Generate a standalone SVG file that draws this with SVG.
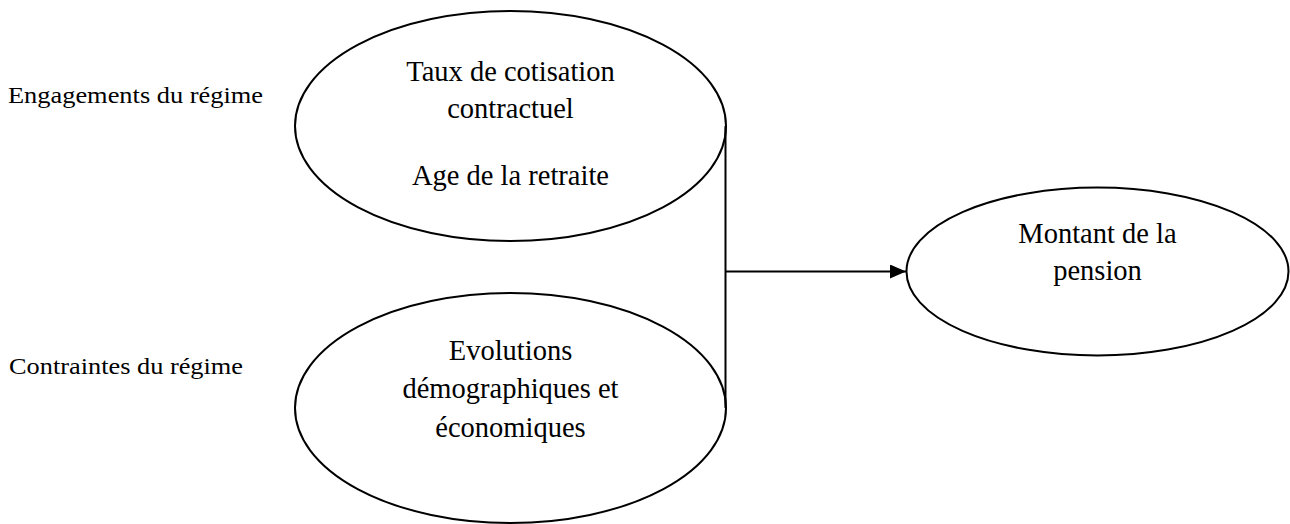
<svg xmlns="http://www.w3.org/2000/svg" width="1290" height="524" viewBox="0 0 1290 524">
<style>
  .shape { fill: #ffffff; stroke: #000000; stroke-width: 2; }
  .conn { fill: none; stroke: #000000; stroke-width: 2; }
  text { font-family: "Liberation Serif", "Times New Roman", serif; fill: #000000; }
  .lbl { font-size: 24px; }
  .in { font-size: 28.5px; text-anchor: middle; }
</style>
<defs>
  <marker id="arrow" markerWidth="18" markerHeight="16" refX="16" refY="7" orient="auto" markerUnits="userSpaceOnUse">
    <path d="M0,0 L16,7 L0,14 z" fill="#000000"/>
  </marker>
</defs>
<rect x="0" y="0" width="1290" height="524" fill="#ffffff"/>
<g id="label-engagements">
  <text class="lbl" x="8" y="103" textLength="255" lengthAdjust="spacingAndGlyphs">Engagements du régime</text>
</g>
<g id="label-contraintes">
  <text class="lbl" x="9" y="374" textLength="234" lengthAdjust="spacingAndGlyphs">Contraintes du régime</text>
</g>
<g id="node-engagements">
  <ellipse class="shape" cx="510.5" cy="126" rx="215.5" ry="115"/>
  <text class="in" x="510.5" y="81">Taux de cotisation</text>
  <text class="in" x="510.5" y="118">contractuel</text>
  <text class="in" x="510.5" y="185">Age de la retraite</text>
</g>
<g id="node-contraintes">
  <ellipse class="shape" cx="510.5" cy="408" rx="215.5" ry="115"/>
  <text class="in" x="510.5" y="360">Evolutions</text>
  <text class="in" x="510.5" y="398">démographiques et</text>
  <text class="in" x="510.5" y="437">économiques</text>
</g>
<g id="node-pension">
  <ellipse class="shape" cx="1097.5" cy="271.5" rx="191" ry="84"/>
  <text class="in" x="1097.5" y="243">Montant de la</text>
  <text class="in" x="1097.5" y="280">pension</text>
</g>
<g id="connectors">
  <line class="conn" x1="725.5" y1="126" x2="725.5" y2="408"/>
  <line class="conn" x1="725.5" y1="271.5" x2="906" y2="271.5" marker-end="url(#arrow)"/>
</g>
</svg>
